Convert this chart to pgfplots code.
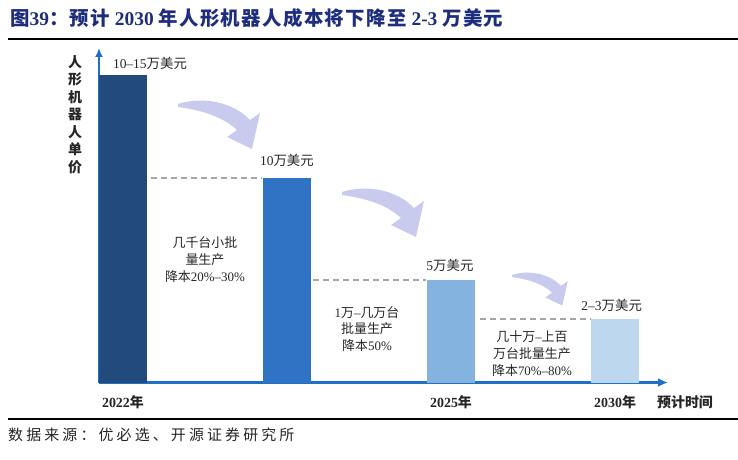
\documentclass[border=0pt]{standalone}
\usepackage{fontspec}
\setmainfont{Liberation Serif}
\newfontfamily\cjk{Noto Sans CJK SC}
\newfontfamily\cjkwide[LetterSpace=21]{Noto Sans CJK SC}
\newfontfamily\cjktitle[LetterSpace=7]{Noto Sans CJK SC}
\usepackage{pgfplots}
\pgfplotsset{compat=1.18}
\usetikzlibrary{arrows.meta}
\definecolor{barA}{RGB}{35,74,125}
\definecolor{barB}{RGB}{48,115,197}
\definecolor{barC}{RGB}{132,179,224}
\definecolor{barD}{RGB}{189,215,238}
\definecolor{axisblue}{RGB}{30,112,200}
\definecolor{titleblue}{RGB}{30,45,125}
\definecolor{dashgray}{RGB}{166,166,166}
\definecolor{arrowfill}{RGB}{200,202,238}
\newcommand{\zh}[1]{{\cjk #1}}
\newcommand{\zt}[1]{{\cjktitle #1}}
\newcommand{\curvearrow}[3]{%
 \fill[arrowfill, shift={(#1,#2)}, scale=#3] (0,0) .. controls (25,-8) and (55,-2) .. (72,16) -- (82,9) -- (74,45) -- (49,33) -- (59,26) .. controls (44,12) and (22,6) .. (0,3) -- cycle;}
\begin{document}
\begin{tikzpicture}
\useasboundingbox (0,0) rectangle (738bp,460bp);
\begin{scope}[x=1bp,y=-1bp,yshift=460bp]
 \curvearrow{178}{104}{1}
 \curvearrow{342}{192}{1}
 \curvearrow{512}{275}{0.68}
\end{scope}
\begin{axis}[
 at={(99bp,77.5bp)}, anchor=south west,
 scale only axis, width=569bp, height=334.5bp,
 xmin=-0.146, xmax=3.323, ymin=0, ymax=16.32,
 axis lines*=left,
 x axis line style={draw=axisblue, line width=2.4bp, -{Latex[length=10bp,width=9bp]}},
 y axis line style={draw=axisblue, line width=2bp, -{Latex[length=9bp,width=8bp]}},
 ytick=\empty,
 xtick={0,2,3}, xticklabels={2022\zh{年},2025\zh{年},2030\zh{年}},
 major tick length=0pt,
 xticklabel style={font=\fontsize{14}{16}\selectfont\bfseries, yshift=-9bp, text=black!85},
 ybar, bar width=47.5bp, bar shift=0pt,
 clip=false,
]
\addplot[fill=barA, draw=none] coordinates {(0,15)};
\addplot[fill=barB, draw=none] coordinates {(1,10)};
\addplot[fill=barC, draw=none] coordinates {(2,5)};
\addplot[fill=barD, draw=none] coordinates {(3,3.1)};
\draw[dashgray, line width=2bp, dash pattern=on 6bp off 4bp] (axis cs:0.17,10) -- (axis cs:0.85,10);
\draw[dashgray, line width=2bp, dash pattern=on 6bp off 4bp] (axis cs:1.16,5) -- (axis cs:1.85,5);
\draw[dashgray, line width=2bp, dash pattern=on 6bp off 4bp] (axis cs:2.177,3.1) -- (axis cs:2.85,3.1);
\begin{scope}[every node/.style={font=\fontsize{13.5}{16}\selectfont, text=black!85, inner sep=0pt}]
\node at (axis cs:0.165,15.59) {10--15\zh{万美元}};
\node at (axis cs:1.0,10.85) {10\zh{万美元}};
\node at (axis cs:1.994,5.73) {5\zh{万美元}};
\node at (axis cs:2.98,3.78) {2--3\zh{万美元}};
\end{scope}
\begin{scope}[every node/.style={font=\fontsize{13}{17}\selectfont, text=black!85, align=center, inner sep=0pt}]
\node at (axis cs:0.5,5.98) {\zh{几千台小批}\\\zh{量生产}\\\zh{降本}20\%--30\%};
\node at (axis cs:1.488,2.61) {1\zh{万}--\zh{几万台}\\\zh{批量生产}\\\zh{降本}50\%};
\node at (axis cs:2.494,1.39) {\zh{几十万}--\zh{上百}\\\zh{万台批量生产}\\\zh{降本}70\%--80\%};
\end{scope}
\end{axis}
\begin{scope}[x=1bp,y=-1bp,yshift=460bp]
 \node[anchor=west, inner sep=0pt, text=titleblue, font=\fontsize{19.5}{22}\selectfont\bfseries] at (10,18.5)
 {\zt{图}39\zt{：预计} 2030 \zt{年人形机器人成本将下降至} 2-3 \zt{万美元}};
 \draw[line width=2bp] (8,39) -- (738,39);
 \draw[line width=1.3bp] (8,419) -- (738,419);
 \node[anchor=west, inner sep=0pt, text=black!85, font=\fontsize{15}{17}\selectfont] at (8,434.5)
 {\cjkwide 数据来源：优必选、开源证券研究所};
 \node[inner sep=0pt, align=center, text=black!85, font=\fontsize{14}{17.5}\selectfont\bfseries\cjk] at (75,114.5)
 {人\\形\\机\\器\\人\\单\\价};
 \node[inner sep=0pt, text=black!85, font=\fontsize{14}{16}\selectfont\bfseries\cjk] at (685,402) {预计时间};
\end{scope}
\end{tikzpicture}
\end{document}
